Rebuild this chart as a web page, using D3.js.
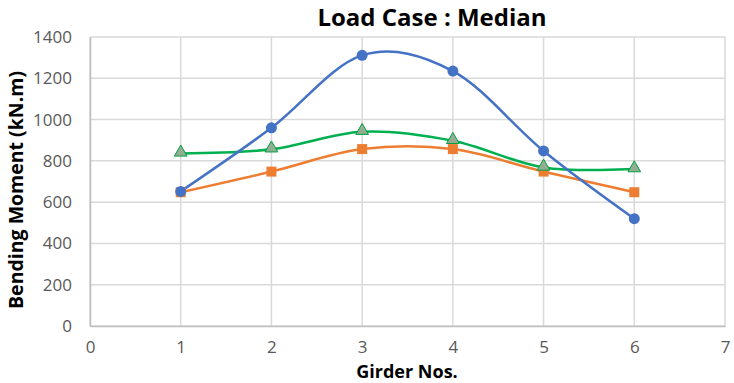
<!DOCTYPE html>
<html><head><meta charset="utf-8">
<script src="https://cdn.jsdelivr.net/npm/d3@7"></script>
<style>body{margin:0;background:#fff;}svg{display:block;}</style>
</head><body>
<svg id="c" width="734" height="383"></svg>
<script>
const girders = [1, 2, 3, 4, 5, 6];
const seriesBlue = [652, 960, 1311, 1235, 848, 520];
const seriesOrange = [648, 748, 857, 857, 748, 648];
const seriesGreen = [836, 856, 941, 897, 768, 760];
const xTicks = [0, 1, 2, 3, 4, 5, 6, 7];
const yTicks = [0, 200, 400, 600, 800, 1000, 1200, 1400];
const titleText = "Load Case : Median";
const xLabel = "Girder Nos.";
const yLabel = "Bending Moment (kN.m)";

const svg = d3.select("#c");
const font = "'Open Sans', sans-serif";
const x = d3.scaleLinear().domain([0, 7]).range([90, 725]);
const y = d3.scaleLinear().domain([0, 1400]).range([326, 37]);

// gridlines
svg.append("g").selectAll("line.h").data(yTicks).join("line")
  .attr("x1", x(0)).attr("x2", x(7)).attr("y1", d => y(d)).attr("y2", d => y(d))
  .attr("stroke", "#d9d9d9").attr("stroke-width", 1.5);
svg.append("g").selectAll("line.v").data(xTicks).join("line")
  .attr("x1", d => x(d)).attr("x2", d => x(d)).attr("y1", y(0)).attr("y2", y(1400))
  .attr("stroke", "#d9d9d9").attr("stroke-width", 1.5);

// axes
const xAxis = svg.append("g").attr("transform", `translate(0,${y(0)})`)
  .call(d3.axisBottom(x).tickValues(xTicks).tickSize(0).tickPadding(15).tickFormat(d3.format("d")));
const yAxis = svg.append("g").attr("transform", `translate(${x(0)},0)`)
  .call(d3.axisLeft(y).tickValues(yTicks).tickSize(0).tickPadding(18).tickFormat(d3.format("d")));
[xAxis, yAxis].forEach(a => {
  a.select(".domain").attr("stroke", "#bfbfbf").attr("stroke-width", 1.5);
  a.selectAll("text").attr("fill", "#595959").style("font-family", font).style("font-size", "17px");
});

const line = d3.line().x((d, i) => x(girders[i])).y(d => y(d)).curve(d3.curveCatmullRom.alpha(0));

function drawSeries(vals, color) {
  svg.append("path").datum(vals).attr("d", line).attr("fill", "none")
    .attr("stroke", color).attr("stroke-width", 2.5).attr("stroke-linejoin", "round");
}
drawSeries(seriesOrange, "#ED7D31");
drawSeries(seriesGreen, "#00B050");
drawSeries(seriesBlue, "#4472C4");

svg.append("g").selectAll("rect").data(seriesOrange).join("rect")
  .attr("x", (d, i) => x(girders[i]) - 5).attr("y", d => y(d) - 5)
  .attr("width", 10).attr("height", 10).attr("fill", "#ED7D31");
svg.append("g").selectAll("path").data(seriesGreen).join("path")
  .attr("d", d3.symbol().type(d3.symbolTriangle).size(70))
  .attr("transform", (d, i) => `translate(${x(girders[i])},${y(d) - 1})`)
  .attr("fill", "#93AE93").attr("stroke", "#00A040").attr("stroke-width", 1);
svg.append("g").selectAll("circle").data(seriesBlue).join("circle")
  .attr("cx", (d, i) => x(girders[i])).attr("cy", d => y(d)).attr("r", 5.5)
  .attr("fill", "#4472C4");

svg.append("text").attr("x", 432).attr("y", 26).attr("text-anchor", "middle")
  .style("font-family", font).style("font-size", "24px").style("font-weight", "bold")
  .attr("fill", "#000").text(titleText);
svg.append("text").attr("x", 407).attr("y", 377.5).attr("text-anchor", "middle")
  .style("font-family", font).style("font-size", "18px").style("font-weight", "bold")
  .attr("fill", "#000").text(xLabel);
svg.append("text").attr("transform", `translate(23,190) rotate(-90)`).attr("text-anchor", "middle")
  .style("font-family", font).style("font-size", "19.5px").style("font-weight", "bold")
  .attr("fill", "#000").text(yLabel);
</script>
</body></html>
